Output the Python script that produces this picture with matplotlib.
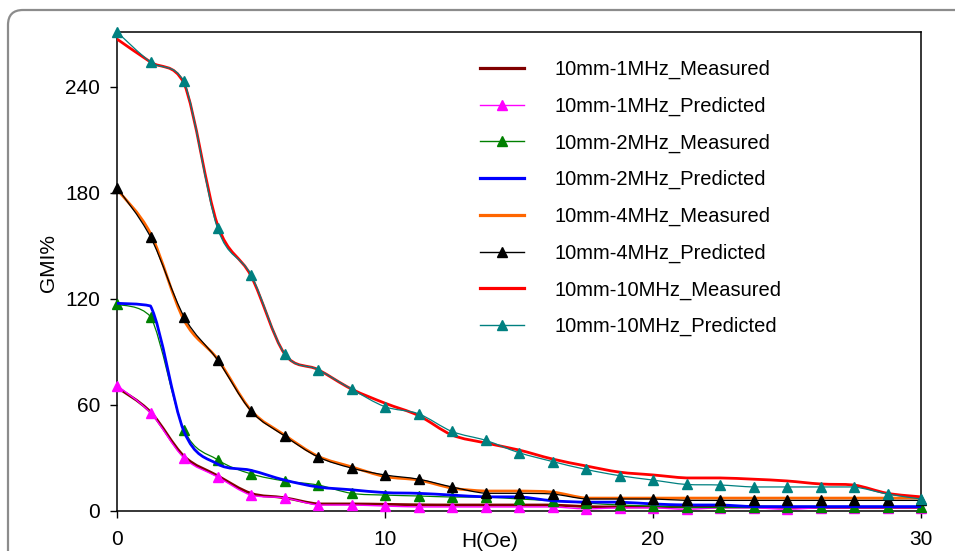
import numpy as np
import matplotlib
matplotlib.use("Agg")
from matplotlib import pyplot as plt
from matplotlib.path import Path
from matplotlib.patches import PathPatch, FancyBboxPatch
from matplotlib.lines import Line2D

plt.rcParams['font.family'] = ['Liberation Sans', 'DejaVu Sans']

# field values (Oe)
h = [0, 1.25, 2.5, 3.75, 5, 6.25, 7.5, 8.75, 10, 11.25, 12.5, 13.75, 15,
     16.25, 17.5, 18.75, 20, 21.25, 22.5, 23.75, 25, 26.25, 27.5, 28.75, 30]

# GMI%
gmi_1m_meas = [70, 56, 31, 20, 10, 7.5, 4, 4, 3.8, 3.5, 3.4, 3.4, 3.4,
               3.4, 2.5, 2.3, 2.3, 2.3, 2.3, 2.3, 2.0, 2.0, 2.0, 2.0, 2.0]
gmi_1m_pred = [71, 55.5, 30, 19.3, 9, 7.4, 3.4, 3.4, 2.8, 2.3, 2.3, 2.3, 2.3,
               2.3, 1.2, 1.8, 1.8, 1.0, 1.8, 1.8, 1.0, 1.8, 1.8, 1.8, 1.8]
gmi_2m_meas = [117, 110, 46, 29, 21, 17, 14.7, 10, 9, 8.5, 7.9, 7.9, 6.8,
               5.8, 4.5, 3.4, 2.8, 2.0, 2.0, 2.0, 2.0, 2.0, 2.0, 2.0, 2.0]
gmi_2m_pred = [117.5, 116, 45, 26.6, 23, 17.5, 13.6, 12, 10.4, 10, 9, 8, 8,
               5.8, 5, 5, 4, 3.4, 3.4, 2.5, 2.5, 2.5, 2.5, 2.5, 2.5]
gmi_4m_meas = [182, 157, 108, 86, 57, 43, 31, 25, 19.5, 17.5, 13, 11.3, 11.3,
               10.7, 7.3, 7.3, 7.3, 7.3, 7.3, 7.3, 7.3, 7.3, 7.3, 7.3, 7.3]
gmi_4m_pred = [183, 155, 110, 85.5, 56.6, 42.5, 30.6, 24.3, 20.4, 18, 13.6, 10, 10,
               9.6, 6.8, 6.8, 6.8, 6, 6, 6, 6, 6, 6, 6, 6]
gmi_10m_meas = [267, 254, 242, 162, 133, 89, 80, 69, 61, 54, 43, 38.5, 34.5,
                29.4, 25.5, 22, 20.4, 18.7, 18.7, 18, 17, 15.3, 14.7, 10, 8]
gmi_10m_pred = [271, 254, 243, 160, 133.6, 89, 80, 69, 59, 55, 45, 40, 33,
                28, 23.5, 20, 17.5, 15, 14.7, 13.6, 13.6, 13.6, 13.6, 9.6, 6.8]

labels = ['10mm-1MHz_Measured', '10mm-1MHz_Predicted',
          '10mm-2MHz_Measured', '10mm-2MHz_Predicted',
          '10mm-4MHz_Measured', '10mm-4MHz_Predicted',
          '10mm-10MHz_Measured', '10mm-10MHz_Predicted']


def smooth_path(x, y):
    # excel-like smoothed line, control points kept inside each segment (no overshoot)
    x = np.asarray(x, float)
    y = np.asarray(y, float)
    n = len(x)
    verts = [(x[0], y[0])]
    codes = [Path.MOVETO]
    for i in range(n - 1):
        i0 = max(i - 1, 0)
        i3 = min(i + 2, n - 1)
        lo, hi = min(y[i], y[i + 1]), max(y[i], y[i + 1])
        c1y = np.clip(y[i] + (y[i + 1] - y[i0]) / 6, lo, hi)
        c2y = np.clip(y[i + 1] - (y[i3] - y[i]) / 6, lo, hi)
        c1 = (x[i] + (x[i + 1] - x[i0]) / 6, c1y)
        c2 = (x[i + 1] - (x[i3] - x[i]) / 6, c2y)
        verts += [c1, c2, (x[i + 1], y[i + 1])]
        codes += [Path.CURVE4] * 3
    return Path(verts, codes)


fig = plt.figure(figsize=(9.55, 5.51), dpi=100)

# rounded grey frame around the figure
frame = FancyBboxPatch((0.08, -1.0), 10.0, 6.41, boxstyle="round,pad=0,rounding_size=0.15",
                       transform=fig.dpi_scale_trans, facecolor='none',
                       edgecolor='#8c8c8c', lw=1.6)
fig.patches.append(frame)

ax = fig.add_axes([117 / 955, 1 - 511 / 551, 804 / 955, 479 / 551])

series = [
    (gmi_1m_meas, '#800000', 2.0, False),
    (gmi_1m_pred, '#ff00ff', 1.0, True),
    (gmi_2m_meas, '#008000', 0.9, True),
    (gmi_2m_pred, '#0000ff', 2.0, False),
    (gmi_4m_meas, '#ff6600', 2.0, False),
    (gmi_4m_pred, '#000000', 0.9, True),
    (gmi_10m_meas, '#ff0000', 2.0, False),
    (gmi_10m_pred, '#008080', 0.9, True),
]

handles = []
for k, (vals, col, lw, mk) in enumerate(series):
    z = 2 + 2 * k
    ax.add_patch(PathPatch(smooth_path(h, vals), facecolor='none', edgecolor=col,
                           lw=lw, zorder=z, capstyle='round', joinstyle='round'))
    if mk:
        ax.plot(h, vals, ls='none', marker='^', ms=7.5, color=col, zorder=z + 1, clip_on=False)
    handles.append(Line2D([], [], color=col, lw=lw + 0.3 if not mk else 1.0,
                          marker='^' if mk else None, ms=7.5))

ax.set_xlim(0, 30)
ax.set_ylim(0, 271)
ax.set_xticks([0, 10, 20, 30])
ax.set_yticks([0, 60, 120, 180, 240])
ax.tick_params(direction='out', length=5, width=1.0, labelsize=15)
ax.tick_params(axis='y', pad=7)
ax.tick_params(axis='x', pad=8.5)
for s in ax.spines.values():
    s.set_linewidth(1.1)

ax.set_xlabel('H(Oe)', fontsize=15)
ax.set_ylabel('GMI%', fontsize=15)
ax.xaxis.set_label_coords(0.464, -0.044)
ax.yaxis.set_label_coords(-0.074, 0.518)

ax.legend(handles, labels, loc='upper left', bbox_to_anchor=(0.4515, 0.942),
          frameon=False, fontsize=14.5, handlelength=2.2, handletextpad=1.5,
          labelspacing=0.87, borderpad=0, borderaxespad=0)

fig.savefig('out.png', dpi=100)
